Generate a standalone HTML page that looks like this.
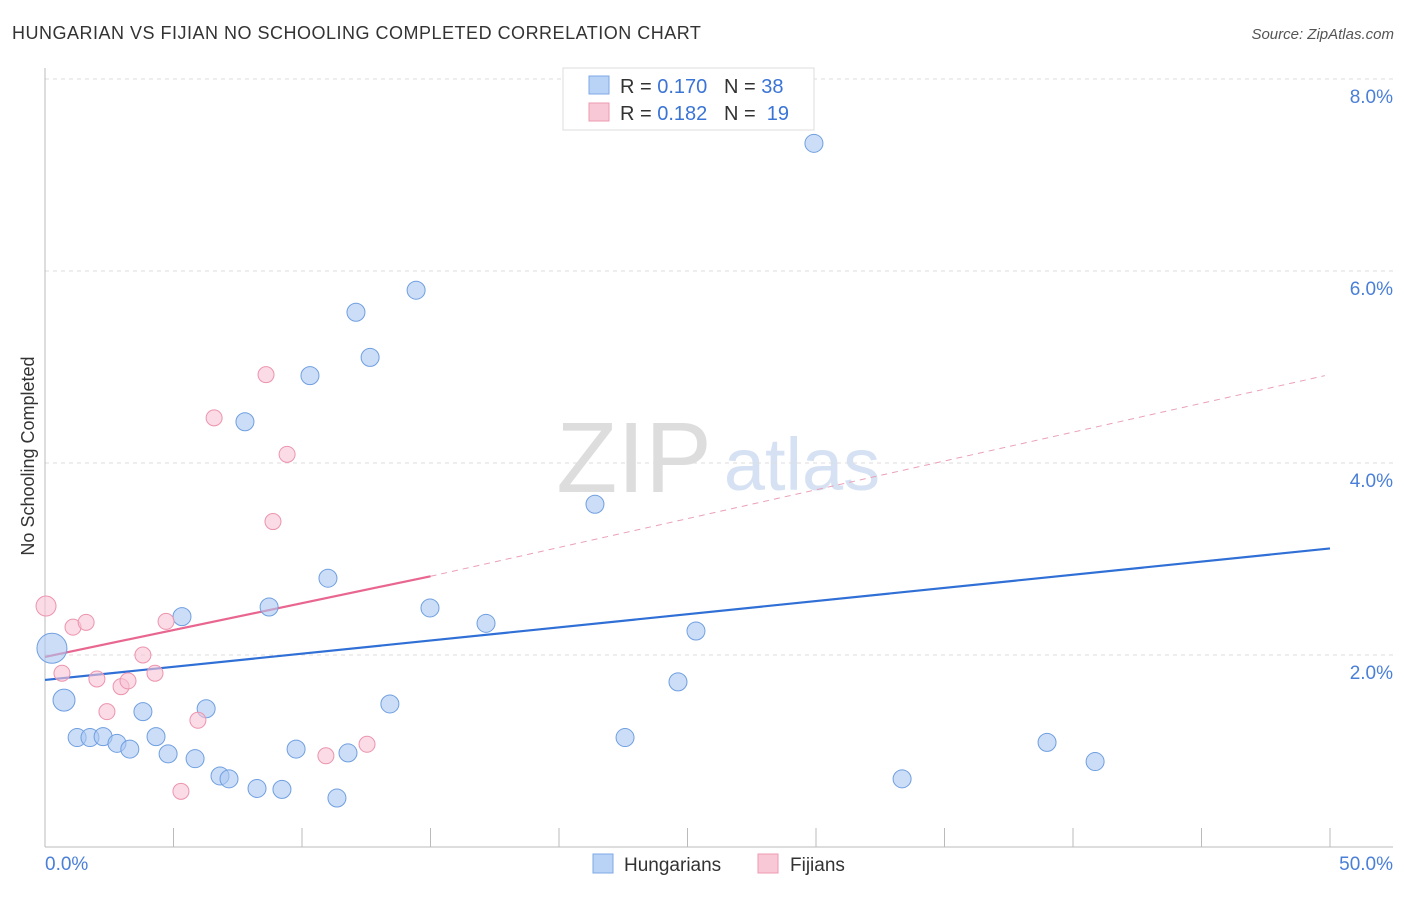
<!DOCTYPE html>
<html><head><meta charset="utf-8">
<style>
body{margin:0;background:#fff;font-family:"Liberation Sans",sans-serif;}
svg text{font-family:"Liberation Sans",sans-serif;}
</style></head>
<body>
<svg id="chart" width="1406" height="892">
<text x="12" y="39" font-size="18" fill="#333" letter-spacing="0.5">HUNGARIAN VS FIJIAN NO SCHOOLING COMPLETED CORRELATION CHART</text>
<text x="1394" y="39" font-size="15" fill="#555" font-style="italic" text-anchor="end">Source: ZipAtlas.com</text>
<text x="634" y="492" font-size="100" fill="#ddd" font-family="Liberation Serif" text-anchor="middle">ZIP</text>
<text x="802" y="490" font-size="74" fill="#d6e2f3" text-anchor="middle">atlas</text>
<text transform="translate(34,456) rotate(-90)" font-size="18" fill="#333" text-anchor="middle">No Schooling Completed</text>
<g id="grid"></g><g id="axes"></g><g id="trends"></g><g id="pts"></g>
<g>
<rect x="563" y="68" width="251" height="62" fill="#fff" stroke="#ddd"/>
<rect x="589" y="76" width="20" height="18" fill="#b8d3f5" stroke="#7fa9e6"/>
<rect x="589" y="103" width="20" height="18" fill="#f9c8d6" stroke="#ee9ab3"/>
<text x="620" y="93" font-size="20" fill="#333">R = <tspan fill="#3a74d6">0.170</tspan>&#160;&#160;&#160;N = <tspan fill="#3a74d6">38</tspan></text>
<text x="620" y="120" font-size="20" fill="#333">R = <tspan fill="#3a74d6">0.182</tspan>&#160;&#160;&#160;N = &#160;<tspan fill="#3a74d6">19</tspan></text>
</g>
<g>
<rect x="593" y="854" width="20" height="19" fill="#b8d3f5" stroke="#7fa9e6"/>
<text x="624" y="871" font-size="19" fill="#333">Hungarians</text>
<rect x="758" y="854" width="20" height="19" fill="#f9c8d6" stroke="#ee9ab3"/>
<text x="790" y="871" font-size="19" fill="#333">Fijians</text>
</g>
</svg>
<script>
const yTicks=[2,4,6,8];
const yTickLabels=["2.0%","4.0%","6.0%","8.0%"];
const xTicks=[0,5,10,15,20,25,30,35,40,45,50];
const hunX=[0.27,0.74,1.25,1.75,2.26,2.8,3.3,3.81,4.32,4.79,5.33,5.84,6.27,6.81,7.16,7.78,8.25,8.72,9.22,9.77,10.31,11.01,11.36,11.79,12.1,12.65,13.42,14.44,14.98,17.16,21.4,22.57,24.63,25.33,29.92,33.35,38.99,40.86];
const hunY=[2.07,1.53,1.14,1.14,1.15,1.08,1.02,1.41,1.15,0.97,2.40,0.92,1.44,0.74,0.71,4.43,0.61,2.50,0.60,1.02,4.91,2.80,0.51,0.98,5.57,5.10,1.49,5.80,2.49,2.33,3.57,1.14,1.72,2.25,7.33,0.71,1.09,0.89];
const hunR=[15,11,9,9,9,9,9,9,9,9,9,9,9,9,9,9,9,9,9,9,9,9,9,9,9,9,9,9,9,9,9,9,9,9,9,9,9,9];
const fijX=[0.04,0.66,1.09,1.6,2.02,2.41,2.96,3.23,3.81,4.28,4.71,5.29,5.95,6.58,8.6,8.87,9.42,10.93,12.53];
const fijY=[2.51,1.81,2.29,2.34,1.75,1.41,1.67,1.73,2.0,1.81,2.35,0.58,1.32,4.47,4.92,3.39,4.09,0.95,1.07];
const hunTrend=[[0,1.74],[50,3.11]];
const fijTrendSolid=[[0,1.98],[15,2.82]];
const fijTrendDash=[[15,2.82],[49.8,4.91]];
const X=v=>45+v/50*1285, Y=v=>847-v*96;
const NS="http://www.w3.org/2000/svg";
function mk(t,a,p){const e=document.createElementNS(NS,t);for(const k in a)e.setAttribute(k,a[k]);document.getElementById(p).appendChild(e);return e;}
yTicks.forEach((v,i)=>{
 const l=mk('line',{x1:45,x2:1393,y1:Y(v),y2:Y(v),stroke:'#ddd','stroke-dasharray':'4,4'},'grid');
 
 
 const t=mk('text',{x:1393,y:Y(v)+24,'font-size':19,fill:'#4a7fd8','text-anchor':'end'},'grid');
 t.textContent=yTickLabels[i];
 
 
});
const ya=mk('line',{x1:45,x2:45,y1:68,y2:847,stroke:'#bbb'},'axes');


const xa=mk('line',{x1:45,x2:1393,y1:847,y2:847,stroke:'#bbb'},'axes');


xTicks.forEach(v=>{
 const t=mk('line',{x1:X(v),x2:X(v),y1:828,y2:847,stroke:'#bbb'},'axes');
 
 
});
const xl0=mk('text',{x:45,y:870,'font-size':19,fill:'#4a7fd8'},'axes');xl0.textContent='0.0%';


const xl1=mk('text',{x:1393,y:870,'font-size':19,fill:'#4a7fd8','text-anchor':'end'},'axes');xl1.textContent='50.0%';


function line(d,col,dash,name,w){const l=mk('line',{x1:X(d[0][0]),y1:Y(d[0][1]),x2:X(d[1][0]),y2:Y(d[1][1]),stroke:col,'stroke-width':w},'trends');if(dash)l.setAttribute('stroke-dasharray',dash);
 
 }
line(hunTrend,'#2f6fd6',null,'hungarians-trend',2.2);
line(fijTrendSolid,'#e8668f',null,'fijians-trend',2.2);
line(fijTrendDash,'#eaa0b8','6,5','fijians-trend-extension',1);
hunX.forEach((v,i)=>{const c=mk('circle',{cx:X(v),cy:Y(hunY[i]),r:hunR[i],fill:'rgba(170,200,242,0.6)',stroke:'#6f9fe0','stroke-width':1},'pts');
 
 });
fijX.forEach((v,i)=>{const c=mk('circle',{cx:X(v),cy:Y(fijY[i]),r:i==0?10:8,fill:'rgba(248,195,212,0.6)',stroke:'#ec94ae','stroke-width':1},'pts');
 
 });
</script>
</body></html>
